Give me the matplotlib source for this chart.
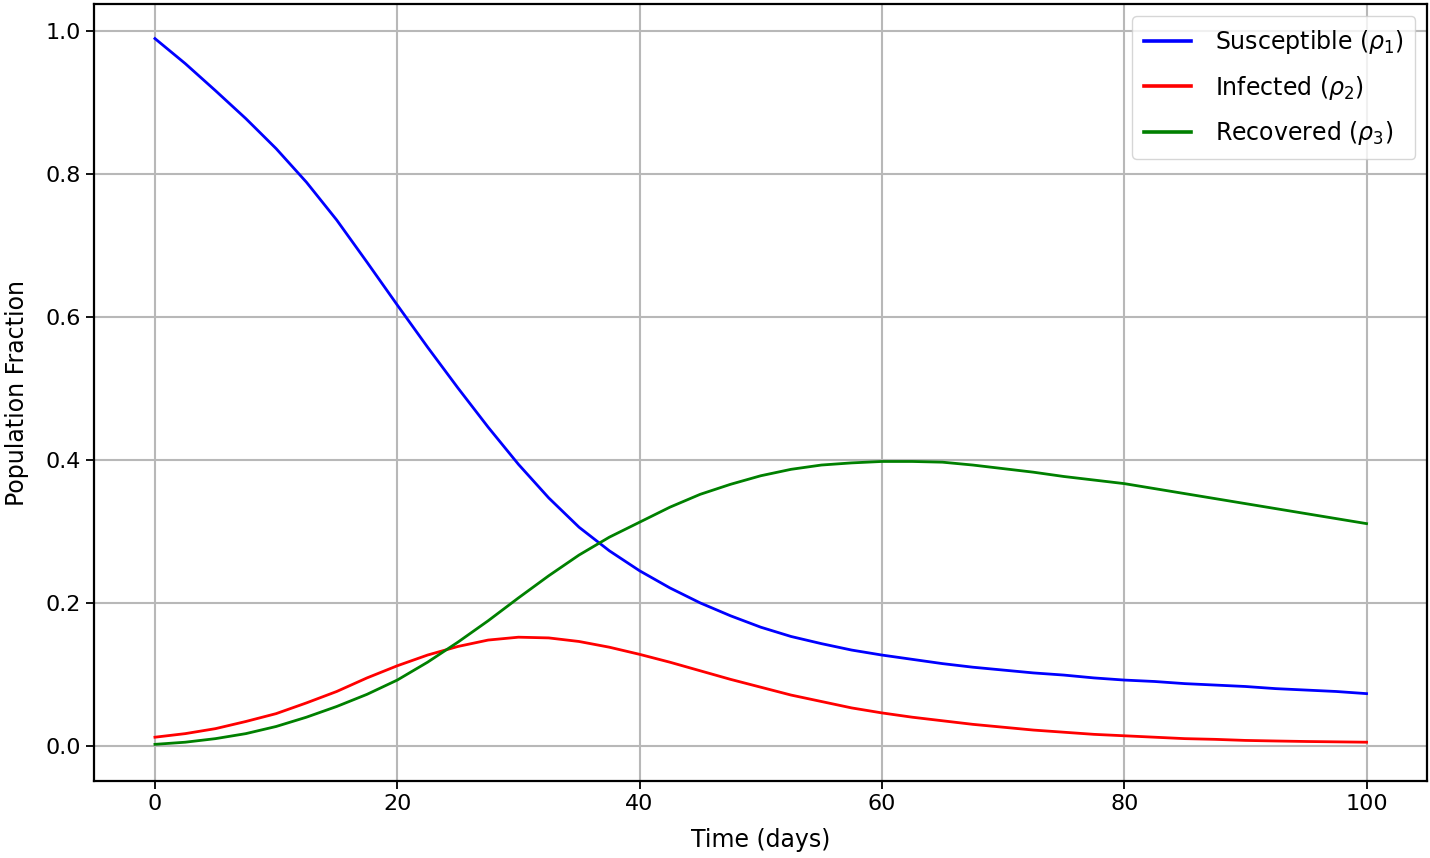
import numpy as np
import matplotlib
matplotlib.use("Agg")
import matplotlib.pyplot as plt

# Values, every 2.5 days
days = np.arange(0, 100.1, 2.5)

susceptible = [0.990, 0.955, 0.917, 0.878, 0.836, 0.789, 0.736, 0.677, 0.617, 0.558,
               0.501, 0.446, 0.394, 0.347, 0.306, 0.273, 0.245, 0.221, 0.200, 0.182,
               0.166, 0.153, 0.143, 0.134, 0.127, 0.121, 0.115, 0.110, 0.106, 0.102,
               0.099, 0.095, 0.092, 0.090, 0.087, 0.085, 0.083, 0.080, 0.078, 0.076,
               0.073]
infected = [0.012, 0.017, 0.024, 0.034, 0.045, 0.060, 0.076, 0.095, 0.112, 0.127,
            0.139, 0.148, 0.152, 0.151, 0.146, 0.138, 0.128, 0.117, 0.105, 0.093,
            0.082, 0.071, 0.062, 0.053, 0.046, 0.040, 0.035, 0.030, 0.026, 0.022,
            0.019, 0.016, 0.014, 0.012, 0.010, 0.009, 0.0075, 0.0067, 0.006, 0.0055,
            0.005]
recovered = [0.002, 0.005, 0.010, 0.017, 0.027, 0.040, 0.055, 0.072, 0.092, 0.117,
             0.145, 0.175, 0.207, 0.238, 0.267, 0.292, 0.313, 0.334, 0.352, 0.366,
             0.378, 0.387, 0.393, 0.396, 0.398, 0.398, 0.397, 0.393, 0.388, 0.383,
             0.377, 0.372, 0.367, 0.360, 0.353, 0.346, 0.339, 0.332, 0.325, 0.318,
             0.311]

plt.rcParams['font.family'] = ['DejaVu Sans']
plt.rcParams['font.size'] = 17

fig, ax = plt.subplots(figsize=(14.3, 8.58), dpi=100)
fig.subplots_adjust(left=0.066, right=0.998, bottom=0.090, top=0.995)

ax.plot(days, susceptible, color='b', lw=2.0, label=r'Susceptible ($\rho_1$)')
ax.plot(days, infected, color='r', lw=2.0, label=r'Infected ($\rho_2$)')
ax.plot(days, recovered, color='g', lw=2.0, label=r'Recovered ($\rho_3$)')

ax.set_xlim(-5, 105)
ax.set_ylim(-0.049, 1.038)
ax.set_xticks([0, 20, 40, 60, 80, 100])
ax.set_yticks([0.0, 0.2, 0.4, 0.6, 0.8, 1.0])
ax.grid(True, color='#b8b8b8', lw=1.5)
ax.tick_params(length=6, width=1.3, labelsize=16)
for s in ax.spines.values():
    s.set_linewidth(1.6)

ax.set_xlabel('Time (days)', labelpad=10)
ax.set_ylabel('Population Fraction', labelpad=12)
leg = ax.legend(loc='upper right', fontsize=17, handlelength=2.0, labelspacing=0.75,
                borderpad=0.5, handletextpad=1.0)
for line in leg.get_lines():
    line.set_linewidth(2.6)

fig.savefig('out.png', dpi=100)
